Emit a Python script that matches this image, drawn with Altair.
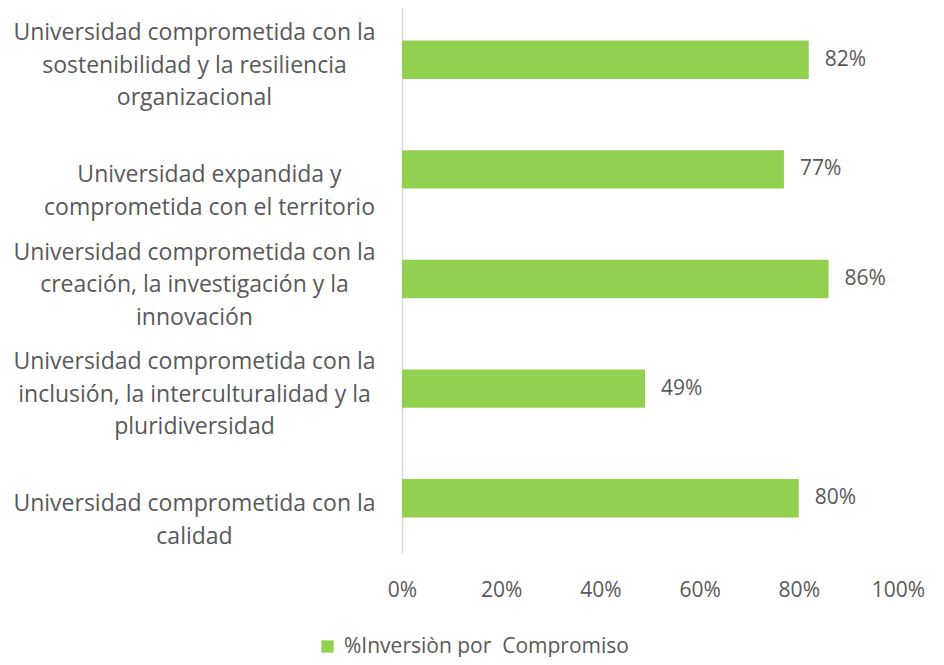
import altair as alt
import pandas as pd

categories = [
    "Universidad comprometida con la\nsostenibilidad y la resiliencia\norganizacional",
    "Universidad expandida y\ncomprometida con el territorio",
    "Universidad comprometida con la\ncreación, la investigación y la\ninnovación",
    "Universidad comprometida con la\ninclusión, la interculturalidad y la\npluridiversidad",
    "Universidad comprometida con la\ncalidad",
]
values = [0.82, 0.77, 0.86, 0.49, 0.80]
series_name = "%Inversiòn por \u00a0Compromiso"
x_ticks = [0, 0.2, 0.4, 0.6, 0.8, 1.0]

df = pd.DataFrame({"cat": categories, "val": values, "serie": [series_name] * len(values)})

FONT = "Open Sans"
GREY = "#595959"

base = alt.Chart(df).encode(
    y=alt.Y(
        "cat:N",
        sort=categories,
        scale=alt.Scale(paddingInner=0.65, paddingOuter=0.325),
        axis=alt.Axis(
            title=None,
            ticks=False,
            domain=True,
            domainColor="#d9d9d9",
            domainWidth=1.5,
            labelAlign="center",
            labelBaseline="middle",
            labelPadding={
                "condition": {"test": "indexof(datum.value, 'expandida') >= 0", "value": 193},
                "value": 208,
            },
            labelLimit=420,
            labelFont=FONT,
            labelFontSize=23,
            labelColor=GREY,
            labelLineHeight=32.5,
            labelOffset={
                "condition": {"test": "length(split(datum.value, '\\n')) == 2", "value": 6},
                "value": -26.5,
            },
            labelExpr="split(datum.label, '\\n')",
        ),
    ),
    x=alt.X(
        "val:Q",
        scale=alt.Scale(domain=[0, 1], nice=False),
        axis=alt.Axis(
            title=None,
            values=x_ticks,
            format=".0%",
            grid=False,
            domain=False,
            ticks=False,
            labelFlush=False,
            labelPadding=26,
            labelFont=FONT,
            labelFontSize=21,
            labelColor=GREY,
        ),
    ),
)

bars = base.mark_bar().encode(
    color=alt.Color(
        "serie:N",
        scale=alt.Scale(domain=[series_name], range=["#92D050"]),
        legend=alt.Legend(
            title=None,
            orient="none",
            legendX=-85,
            legendY=631,
            direction="horizontal",
            symbolType="square",
            symbolSize=150,
            symbolStrokeWidth=0,
            labelFont=FONT,
            labelFontSize=21,
            labelColor=GREY,
            labelLimit=500,
            labelOffset=6,
            padding=0,
        ),
    )
)

labels = base.mark_text(
    align="left", baseline="middle", dx=16, font=FONT, fontSize=21, color=GREY
).encode(text=alt.Text("val:Q", format=".0%"))

chart = (
    (bars + labels)
    .properties(
        width=496,
        height=548,
        autosize=alt.AutoSizeParams(type="none"),
        padding={"left": 394, "top": -3, "right": 30, "bottom": 104},
    )
    .configure(background="white")
    .configure_view(stroke=None, strokeWidth=0)
)

chart.save("out.html", embed_options={"renderer": "svg", "actions": False})
